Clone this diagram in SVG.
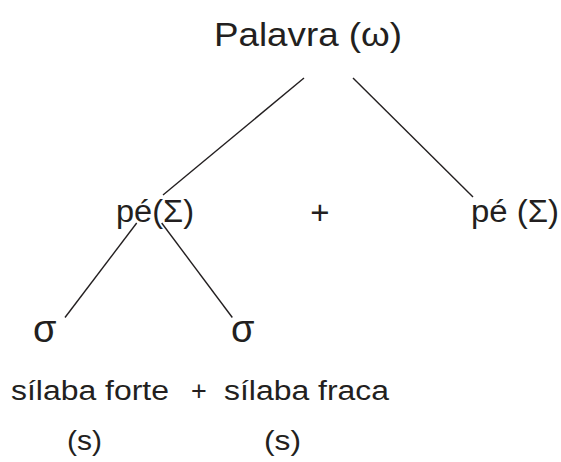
<svg xmlns="http://www.w3.org/2000/svg" width="561" height="462" viewBox="0 0 561 462">
<style>
text { font-family: "Liberation Sans", Arial, sans-serif; fill: #231f20; }
.t { font-size: 34px; }
.m { font-size: 31px; }
.s { font-size: 27px; }
.g { font-size: 38px; }
.p { font-size: 33px; }
line { stroke: #231f20; stroke-width: 1.4; }
</style>
<rect width="561" height="462" fill="#ffffff"/>
<g id="connectors">
<line x1="304" y1="78" x2="163" y2="195"/>
<line x1="353" y1="78" x2="473" y2="197"/>
<line x1="136.7" y1="223" x2="65" y2="317.5"/>
<line x1="161.7" y1="223" x2="232.3" y2="317.5"/>
</g>
<g id="palavra"><text class="t" x="214" y="46" textLength="188" lengthAdjust="spacingAndGlyphs">Palavra (ω)</text></g>
<g id="pe1"><text class="m" x="116" y="222" textLength="78" lengthAdjust="spacingAndGlyphs">pé(Σ)</text></g>
<g id="plus1"><text class="p" x="320" y="224" text-anchor="middle">+</text></g>
<g id="pe2"><text class="m" x="471" y="222" textLength="88" lengthAdjust="spacingAndGlyphs">pé (Σ)</text></g>
<g id="sigma1"><text class="g" x="33" y="342">σ</text></g>
<g id="sigma2"><text class="g" x="231" y="342">σ</text></g>
<g id="forte"><text class="s" x="11" y="400" textLength="158" lengthAdjust="spacingAndGlyphs">sílaba forte</text></g>
<g id="plus2"><text class="s" x="199" y="400" text-anchor="middle">+</text></g>
<g id="fraca"><text class="s" x="224" y="400" textLength="165" lengthAdjust="spacingAndGlyphs">sílaba fraca</text></g>
<g id="s1"><text class="s" x="67" y="450" textLength="35" lengthAdjust="spacingAndGlyphs">(s)</text></g>
<g id="s2"><text class="s" x="264" y="450" textLength="37" lengthAdjust="spacingAndGlyphs">(s)</text></g>
</svg>
